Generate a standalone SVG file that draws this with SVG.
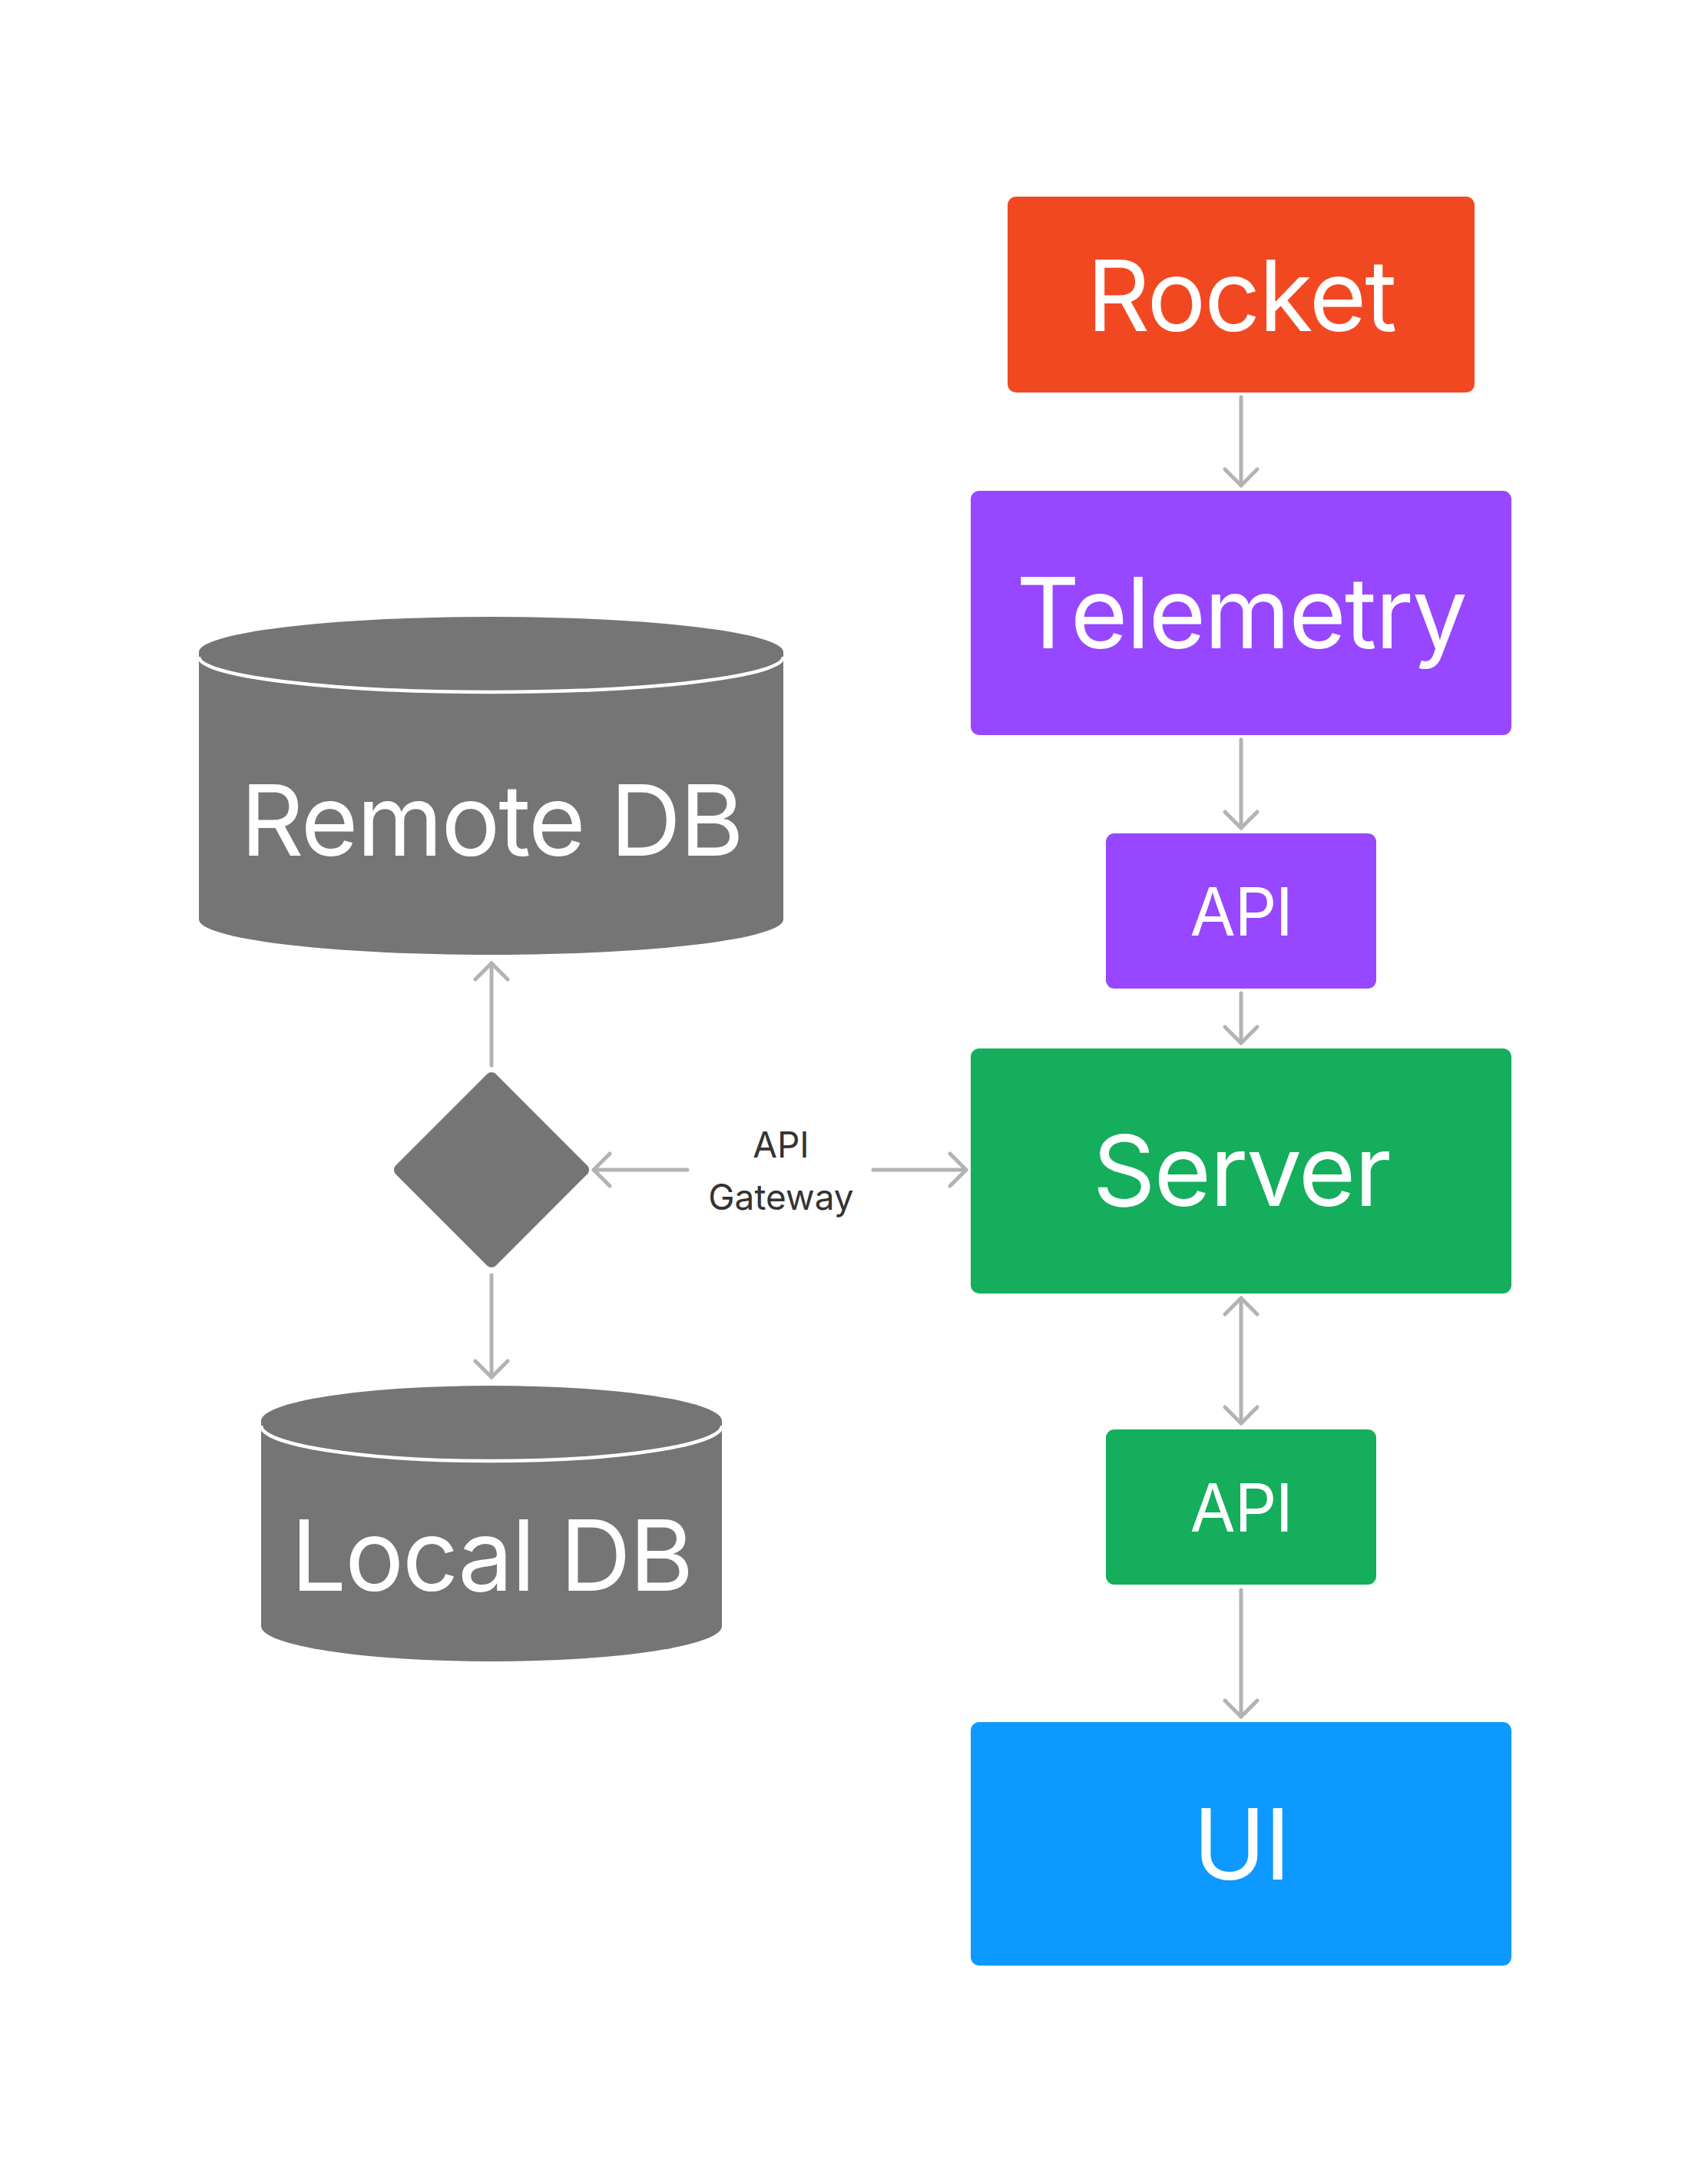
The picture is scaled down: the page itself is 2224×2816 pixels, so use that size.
<svg xmlns="http://www.w3.org/2000/svg" width="2224" height="2816" viewBox="0 0 2224 2816">
<defs>
<style>
.big{font-family:Inter,"Liberation Sans",sans-serif;font-size:128px;fill:#fff;text-anchor:middle;letter-spacing:-2px}
.mid{font-family:Inter,"Liberation Sans",sans-serif;font-size:86px;fill:#fff;text-anchor:middle;letter-spacing:-1.5px}
.lbl{font-family:Inter,"Liberation Sans",sans-serif;font-size:46px;fill:#333;text-anchor:middle}
.db{fill:#757575}
.rim{fill:none;stroke:#fff;stroke-width:4.5}
.conn{fill:none;stroke:#b3b3b3;stroke-width:5;stroke-linecap:round}
</style>
<marker id="chev" markerUnits="userSpaceOnUse" viewBox="-26 -26 30 52" markerWidth="30" markerHeight="52" refX="0" refY="0" orient="auto-start-reverse">
<path d="M-21,-21 L0,0 L-21,21" fill="none" stroke="#b3b3b3" stroke-width="5" stroke-linecap="round" stroke-linejoin="round"/>
</marker>
</defs>
<rect width="2224" height="2816" fill="#fff"/>
<g id="connectors">
<path class="conn" d="M1616,517 V632" marker-end="url(#chev)"/>
<path class="conn" d="M1616,963 V1078" marker-end="url(#chev)"/>
<path class="conn" d="M1616,1293 V1358" marker-end="url(#chev)"/>
<path class="conn" d="M1616,1690 V1853" marker-start="url(#chev)" marker-end="url(#chev)"/>
<path class="conn" d="M1616,2070 V2235" marker-end="url(#chev)"/>
<path class="conn" d="M640,1387 V1254" marker-end="url(#chev)"/>
<path class="conn" d="M640,1660 V1793" marker-end="url(#chev)"/>
<path class="conn" d="M895,1523 H773" marker-end="url(#chev)"/>
<path class="conn" d="M1137,1523 H1258" marker-end="url(#chev)"/>
</g>
<g id="rocket">
<rect x="1312" y="256" width="608" height="255" rx="11" fill="#F24822"/>
<text class="big" x="1616" y="431">Rocket</text>
</g>
<g id="telemetry">
<rect x="1264" y="639" width="704" height="318" rx="11" fill="#9747FF"/>
<text class="big" x="1616" y="844">Telemetry</text>
</g>
<g id="api1">
<rect x="1440" y="1085" width="352" height="202" rx="11" fill="#9747FF"/>
<text class="mid" x="1616" y="1218">API</text>
</g>
<g id="server">
<rect x="1264" y="1365" width="704" height="319" rx="11" fill="#14AE5C"/>
<text class="big" x="1616" y="1570">Server</text>
</g>
<g id="api2">
<rect x="1440" y="1861" width="352" height="202" rx="11" fill="#14AE5C"/>
<text class="mid" x="1616" y="1994">API</text>
</g>
<g id="ui">
<rect x="1264" y="2242" width="704" height="317" rx="11" fill="#0D99FF"/>
<text class="big" x="1616" y="2447">UI</text>
</g>
<g id="remote-db">
<path class="db" d="M259,849 L259,1197 A380.5,46 0 0 0 1020,1197 L1020,849 Z"/>
<path class="rim" d="M259,855 A380.5,46 0 0 0 1020,855"/>
<ellipse class="db" cx="639.5" cy="849" rx="380.5" ry="46"/>
<text class="big" x="640" y="1114">Remote DB</text>
</g>
<g id="local-db">
<path class="db" d="M340,1850 L340,2117 A300,46 0 0 0 940,2117 L940,1850 Z"/>
<path class="rim" d="M340,1856 A300,46 0 0 0 940,1856"/>
<ellipse class="db" cx="640" cy="1850" rx="300" ry="46"/>
<text class="big" x="640" y="2071">Local DB</text>
</g>
<g id="gateway">
<polygon points="640,1404 759,1523 640,1642 521,1523" fill="#757575" stroke="#757575" stroke-width="16" stroke-linejoin="round"/>
</g>
<g id="gateway-label">
<text class="lbl" x="1017" y="1507">API</text>
<text class="lbl" x="1017" y="1575">Gateway</text>
</g>
</svg>
